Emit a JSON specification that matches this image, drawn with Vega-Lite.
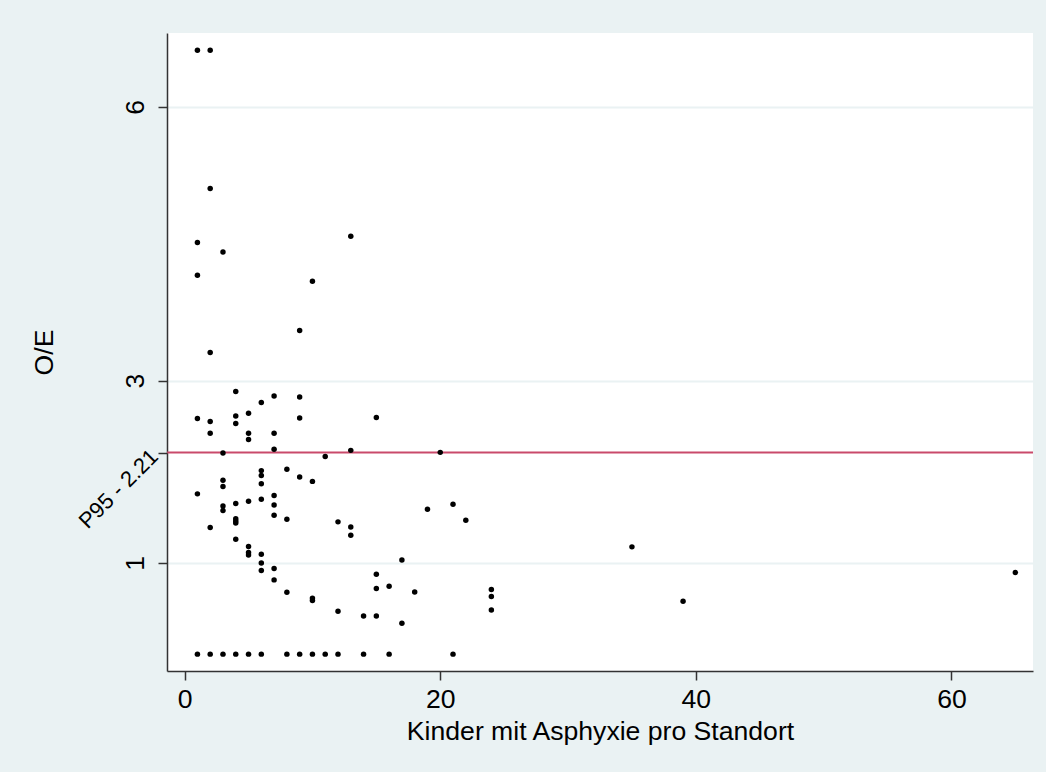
{
  "$schema": "https://vega.github.io/schema/vega-lite/v6.json",
  "width": 866,
  "height": 638,
  "autosize": {"type": "none"},
  "padding": {"left": 167, "top": 33, "right": 13, "bottom": 101},
  "background": "#EAF2F3",
  "view": {"fill": "white", "stroke": null},
  "config": {"font": "Liberation Sans"},
  "resolve": {"axis": {"y": "independent"}},
  "datasets": {
    "pts": [
      {"n": 1, "oe": 6.62}, {"n": 1, "oe": 4.513}, {"n": 1, "oe": 4.155}, {"n": 1, "oe": 2.583}, {"n": 1, "oe": 1.757}, {"n": 1, "oe": 0},
      {"n": 2, "oe": 6.62}, {"n": 2, "oe": 5.105}, {"n": 2, "oe": 3.307}, {"n": 2, "oe": 2.55}, {"n": 2, "oe": 2.422}, {"n": 2, "oe": 1.388}, {"n": 2, "oe": 0},
      {"n": 3, "oe": 4.41}, {"n": 3, "oe": 2.206}, {"n": 3, "oe": 1.907}, {"n": 3, "oe": 1.838}, {"n": 3, "oe": 1.625}, {"n": 3, "oe": 1.575}, {"n": 3, "oe": 0},
      {"n": 4, "oe": 2.879}, {"n": 4, "oe": 2.612}, {"n": 4, "oe": 2.528}, {"n": 4, "oe": 1.651}, {"n": 4, "oe": 1.485}, {"n": 4, "oe": 1.46}, {"n": 4, "oe": 1.437}, {"n": 4, "oe": 1.26}, {"n": 4, "oe": 0},
      {"n": 5, "oe": 2.641}, {"n": 5, "oe": 2.422}, {"n": 5, "oe": 2.353}, {"n": 5, "oe": 1.676}, {"n": 5, "oe": 1.18}, {"n": 5, "oe": 1.114}, {"n": 5, "oe": 1.088}, {"n": 5, "oe": 0},
      {"n": 6, "oe": 2.759}, {"n": 6, "oe": 2.012}, {"n": 6, "oe": 1.958}, {"n": 6, "oe": 1.868}, {"n": 6, "oe": 1.698}, {"n": 6, "oe": 1.095}, {"n": 6, "oe": 1.0}, {"n": 6, "oe": 0.917}, {"n": 6, "oe": 0},
      {"n": 7, "oe": 2.831}, {"n": 7, "oe": 2.422}, {"n": 7, "oe": 2.247}, {"n": 7, "oe": 1.739}, {"n": 7, "oe": 1.636}, {"n": 7, "oe": 1.523}, {"n": 7, "oe": 0.938}, {"n": 7, "oe": 0.814},
      {"n": 8, "oe": 2.027}, {"n": 8, "oe": 1.48}, {"n": 8, "oe": 0.679}, {"n": 8, "oe": 0},
      {"n": 9, "oe": 3.548}, {"n": 9, "oe": 2.82}, {"n": 9, "oe": 2.59}, {"n": 9, "oe": 1.943}, {"n": 9, "oe": 0},
      {"n": 10, "oe": 4.089}, {"n": 10, "oe": 1.894}, {"n": 10, "oe": 0.614}, {"n": 10, "oe": 0.589}, {"n": 10, "oe": 0},
      {"n": 11, "oe": 2.168}, {"n": 11, "oe": 0},
      {"n": 12, "oe": 1.45}, {"n": 12, "oe": 0.47}, {"n": 12, "oe": 0},
      {"n": 13, "oe": 4.582}, {"n": 13, "oe": 2.234}, {"n": 13, "oe": 1.395}, {"n": 13, "oe": 1.304},
      {"n": 14, "oe": 0.419}, {"n": 14, "oe": 0},
      {"n": 15, "oe": 2.594}, {"n": 15, "oe": 0.876}, {"n": 15, "oe": 0.719}, {"n": 15, "oe": 0.419},
      {"n": 16, "oe": 0.745}, {"n": 16, "oe": 0},
      {"n": 17, "oe": 1.033}, {"n": 17, "oe": 0.339},
      {"n": 18, "oe": 0.682},
      {"n": 19, "oe": 1.589},
      {"n": 20, "oe": 2.212},
      {"n": 21, "oe": 1.644}, {"n": 21, "oe": 0},
      {"n": 22, "oe": 1.468},
      {"n": 24, "oe": 0.708}, {"n": 24, "oe": 0.633}, {"n": 24, "oe": 0.485},
      {"n": 35, "oe": 1.176},
      {"n": 39, "oe": 0.58},
      {"n": 65, "oe": 0.894}
    ],
    "p95": [{"oe": 2.21}]
  },
  "layer": [
    {
      "data": {"name": "p95"},
      "mark": {"type": "rule", "color": "#C94A6B", "strokeWidth": 2},
      "encoding": {
        "y": {
          "field": "oe",
          "type": "quantitative",
          "scale": {"domain": [-0.185, 6.81], "nice": false, "zero": false},
          "axis": {
            "orient": "left",
            "values": [2.21],
            "title": null,
            "grid": false,
            "domain": false,
            "tickColor": "#333333",
            "tickWidth": 1.5,
            "tickSize": 9,
            "labelExpr": "'P95 - 2.21'",
            "labelAngle": -45,
            "labelAlign": "right",
            "labelBaseline": "middle",
            "labelPadding": 4,
            "labelFontSize": 22,
            "labelColor": "black",
            "labelOverlap": false,
            "labelBound": false,
            "labelFlush": false,
            "zindex": 1
          }
        }
      }
    },
    {
      "data": {"name": "pts"},
      "mark": {"type": "circle", "size": 30, "color": "black", "opacity": 1},
      "encoding": {
        "x": {
          "field": "n",
          "type": "quantitative",
          "scale": {"domain": [-1.38, 66.38], "nice": false, "zero": false},
          "axis": {
            "values": [0, 20, 40, 60],
            "grid": false,
            "title": "Kinder mit Asphyxie pro Standort",
            "labelAngle": 0,
            "labelFontSize": 26.6,
            "labelColor": "black",
            "labelPadding": 6.5,
            "labelFlush": false,
            "labelOverlap": false,
            "tickSize": 9,
            "tickColor": "#333333",
            "tickWidth": 1.5,
            "domainColor": "#333333",
            "domainWidth": 1.5,
            "titleFontSize": 26.6,
            "titleFontWeight": "normal",
            "titleColor": "black",
            "titleBaseline": "top",
            "titleY": 47.5
          }
        },
        "y": {
          "field": "oe",
          "type": "quantitative",
          "scale": {"domain": [-0.185, 6.81], "nice": false, "zero": false},
          "axis": {
            "orient": "left",
            "values": [1, 3, 6],
            "format": "d",
            "title": "O/E",
            "grid": true,
            "gridColor": "#EAF2F3",
            "gridWidth": 2,
            "domainColor": "#333333",
            "domainWidth": 1.5,
            "tickColor": "#333333",
            "tickWidth": 1.5,
            "tickSize": 9,
            "labelAngle": -90,
            "labelAlign": "center",
            "labelBaseline": "bottom",
            "labelPadding": 8.5,
            "labelFontSize": 26.6,
            "labelColor": "black",
            "labelOverlap": false,
            "labelBound": false,
            "labelFlush": false,
            "titleFontSize": 26.6,
            "titleFontWeight": "normal",
            "titleColor": "black",
            "titleAngle": -90,
            "titleBaseline": "bottom",
            "titleAlign": "center",
            "titleX": -108.5,
            "titleY": 319
          }
        }
      }
    }
  ]
}
